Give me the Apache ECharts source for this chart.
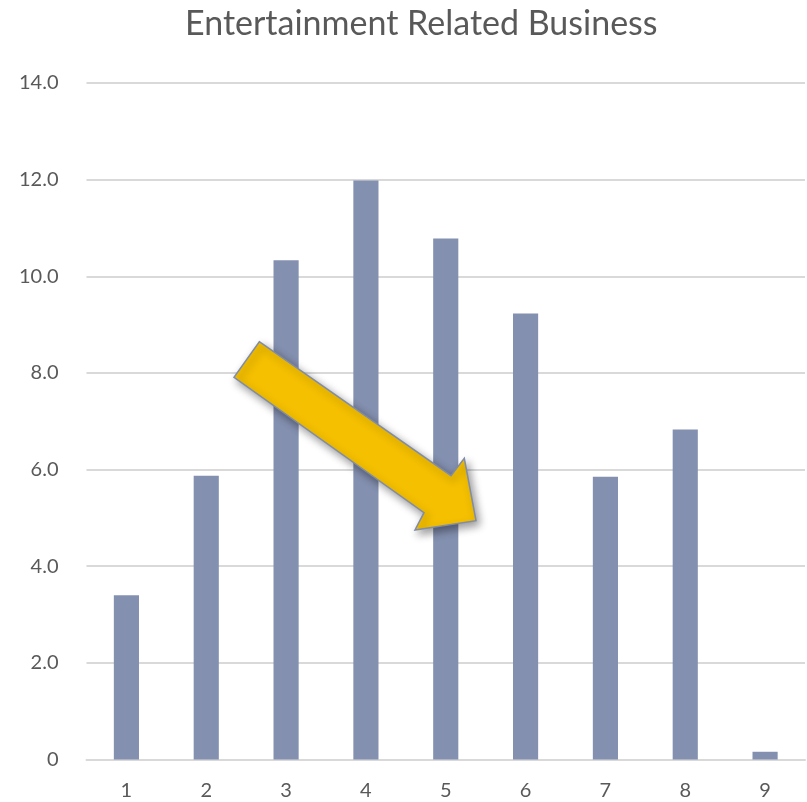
<!DOCTYPE html>
<html><head><meta charset="utf-8">
<script src="https://cdn.jsdelivr.net/npm/echarts@6/dist/echarts.min.js"></script>
<style>html,body{margin:0;padding:0;background:#fff}#c{width:807px;height:802px}</style>
</head><body><div id="c"></div>
<script>
var categories = ['1','2','3','4','5','6','7','8','9'];
var values = [3.40, 5.87, 10.33, 11.98, 10.78, 9.23, 5.85, 6.83, 0.16];
var titleText = 'Entertainment Related Business';

var chart = echarts.init(document.getElementById('c'));
var fontFam = 'Lato, "Open Sans", sans-serif';
chart.setOption({
  animation: false,
  backgroundColor: '#fff',
  title: {
    text: titleText, left: 180, top: 2,
    textStyle: {fontFamily: fontFam, fontSize: 34, fontWeight: 'normal', color: '#595959'}
  },
  grid: {left: 86.5, right: 2, top: 83, bottom: 42.5},
  xAxis: {
    type: 'category', data: categories,
    axisLine: {lineStyle: {color: '#D9D9D9', width: 2}},
    axisTick: {show: false},
    axisLabel: {fontFamily: fontFam, fontSize: 20, color: '#595959', margin: 21}
  },
  yAxis: {
    type: 'value', min: 0, max: 14, interval: 2,
    axisLine: {show: false}, axisTick: {show: false},
    splitLine: {lineStyle: {color: '#D9D9D9', width: 2}},
    axisLabel: {fontFamily: fontFam, fontSize: 20, color: '#595959', margin: 28,
      formatter: function(v){ return v === 0 ? '0' : v.toFixed(1); }}
  },
  series: [{
    type: 'bar', data: values, barWidth: '31.5%',
    itemStyle: {color: '#8490B0'}
  }],
  graphic: [{
    type: 'polygon', z: 100,
    shape: {points: [[259.3,341.7],[451,475.7],[464.3,458.3],[476,520.7],[415,530],[424,512.7],[234,377.3]]},
    style: {fill: '#F5C000', stroke: '#7F8CAA', lineWidth: 1.5,
      shadowBlur: 8, shadowOffsetX: 3, shadowOffsetY: 4, shadowColor: 'rgba(0,0,0,0.4)'}
  }]
});
</script></body></html>
